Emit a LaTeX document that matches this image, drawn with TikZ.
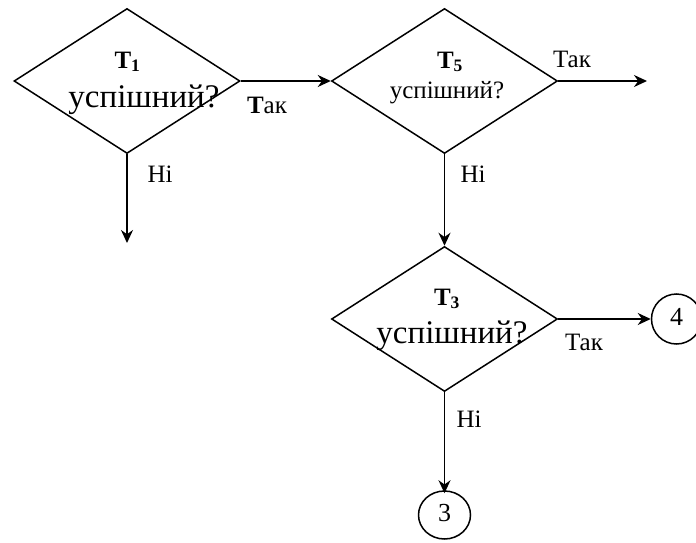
\documentclass[tikz,border=0pt]{standalone}
\usepackage{fontspec}
\setmainfont{Liberation Serif}
\usetikzlibrary{shapes.geometric,arrows.meta}
\begin{document}
\begin{tikzpicture}[x=1pt,y=-1pt,
  dec/.style={diamond,draw,line width=1.5pt,minimum width=226pt,minimum height=145pt,inner sep=0pt},
  conn/.style={ellipse,draw,line width=1.5pt,inner sep=0pt,font=\fontsize{26}{30}\selectfont},
  arr/.style={-{Stealth[length=13pt,width=12pt]},line width=1.5pt},
  lbl/.style={font=\fontsize{25}{30}\selectfont,anchor=base,inner sep=0pt},
  big/.style={font=\fontsize{33}{40}\selectfont,anchor=base,inner sep=0pt},
  tt/.style={font=\fontsize{25}{30}\selectfont\bfseries,anchor=base,inner sep=0pt}]
\useasboundingbox (0,0) rectangle (696,543);
\node[dec] (d1) at (127,81) {};
\node[dec] (d2) at (444.5,81) {};
\node[dec] (d3) at (444.5,319) {};
\node[conn,minimum width=50pt,minimum height=50pt] (c4) at (676.5,319) {\raisebox{5pt}{4}};
\node[conn,minimum width=52pt,minimum height=48pt] (c3) at (444.5,515) {\raisebox{5pt}{3}};
\coordinate (e1) at (127,243);
\coordinate (e2) at (647,81);
\draw[arr] (d1.east) -- (d2.west);
\draw[arr] (d1.south) -- (e1);
\draw[arr] (d2.east) -- (e2);
\draw[arr] (d2.south) -- (d3.north);
\draw[arr] (d3.east) -- (c4.west);
\draw[arr] (d3.south) -- ([yshift=-3pt]c3.north);
% labels in D1
\node[tt] (t1) at (127.5,68) {T\textsubscript{1}};
\node[big] (q1) at (144,107) {успішний?};
\node[lbl] (y1) at (267,113) {\textbf{Т}ак};
\node[lbl] (n1) at (160,182) {Ні};
% labels in D2
\node[tt] (t5) at (450,68) {T\textsubscript{5}};
\node[lbl] (q2) at (447,98) {успішний?};
\node[lbl] (y2) at (572,67) {Так};
\node[lbl] (n2) at (473,182) {Ні};
% labels in D3
\node[tt] (t3) at (447,305) {T\textsubscript{3}};
\node[big] (q3) at (452,343) {успішний?};
\node[lbl] (y3) at (584,350) {Так};
\node[lbl] (n3) at (469,427) {Ні};
\end{tikzpicture}
\end{document}
